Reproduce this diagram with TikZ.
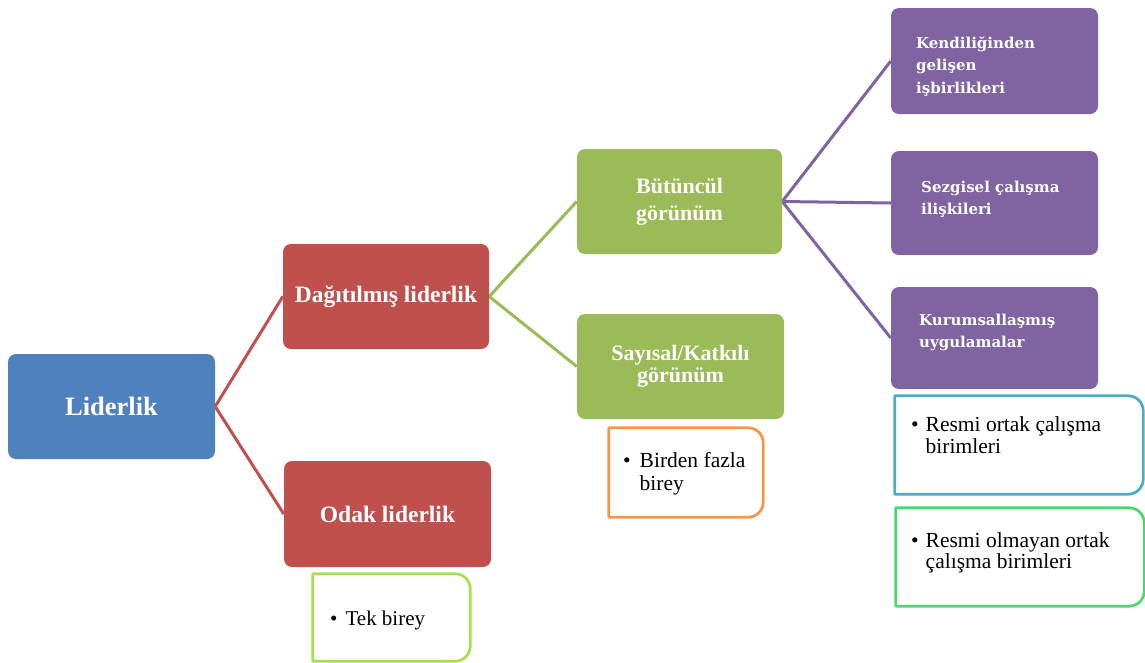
\documentclass[tikz,border=0pt]{standalone}
\usepackage{fontspec}
\setmainfont{Liberation Serif}
\newfontfamily\purpfont{DejaVu Serif}
\definecolor{cblue}{HTML}{4F81BD}
\definecolor{cred}{HTML}{C0504D}
\definecolor{cgreen}{HTML}{9BBB59}
\definecolor{cpurple}{HTML}{8064A2}
\definecolor{ccyan}{HTML}{4BACC6}
\definecolor{corange}{HTML}{F79646}
\definecolor{clime}{HTML}{A8E04C}
\definecolor{cmint}{HTML}{4FD66A}
\pgfdeclarelayer{background}
\pgfsetlayers{background,main}
\newcommand{\rightroundbox}[3]{%
  \draw[#2, line width=2.8pt, line join=round] (#1.south west) -- (#1.north west) -- ([xshift=-#3]#1.north east)
    arc[start angle=90,end angle=0,radius=#3] -- ([yshift=#3]#1.south east)
    arc[start angle=0,end angle=-90,radius=#3] -- cycle;}
\begin{document}
\begin{tikzpicture}[x=1pt,y=-1pt,
  mainbox/.style={rounded corners=8pt, inner sep=0pt, text=white, align=center},
  conn/.style={line width=3pt},
  holder/.style={inner sep=0pt},
  plabel/.style={anchor=north west, inner sep=0pt, text=white, align=left},
  blabel/.style={anchor=north west, inner sep=0pt, text=black}]
\useasboundingbox (0,0) rectangle (1145,662);

% main boxes
\node[mainbox, minimum width=207pt, minimum height=105pt, fill=cblue, font={\bfseries\fontsize{26.5}{30}\selectfont}] (lid) at (111.5,406.5) {Liderlik};
\node[mainbox, minimum width=206pt, minimum height=105pt, fill=cred, font={\bfseries\fontsize{23.5}{27}\selectfont}] (dag) at (386,296.5) {Dağıtılmış liderlik};
\node[mainbox, minimum width=207pt, minimum height=106pt, fill=cred, font={\bfseries\fontsize{23.5}{27}\selectfont}] (odak) at (387.5,514) {Odak liderlik};
\node[mainbox, minimum width=205pt, minimum height=105pt, fill=cgreen, font={\bfseries\fontsize{22}{27}\selectfont}] (but) at (679.5,201.5) {Bütüncül\\görünüm};
\node[mainbox, minimum width=207pt, minimum height=105pt, fill=cgreen, font={\bfseries\fontsize{22}{22}\selectfont}] (say) at (680.5,366.5) {Sayısal/Katkılı\\görünüm};
\node[mainbox, minimum width=207pt, minimum height=106pt, fill=cpurple] (ken) at (994.5,61) {};
\node[mainbox, minimum width=207pt, minimum height=104pt, fill=cpurple] (sez) at (994.5,203) {};
\node[mainbox, minimum width=207pt, minimum height=102pt, fill=cpurple] (kur) at (994.5,338) {};

% connectors
\begin{pgfonlayer}{background}
\draw[conn, cred] (lid.east) -- (dag.west);
\draw[conn, cred] (lid.east) -- (odak.west);
\draw[conn, cgreen] (dag.east) -- (but.west);
\draw[conn, cgreen] (dag.east) -- (say.west);
\draw[conn, cpurple] (but.east) -- (ken.west);
\draw[conn, cpurple] (but.east) -- (sez.west);
\draw[conn, cpurple] (but.east) -- (kur.west);
\end{pgfonlayer}

% purple labels
\node[plabel, font={\purpfont\bfseries\fontsize{15}{22.5}\selectfont}] (kent) at (916,36.3) {Kendiliğinden\\gelişen\\işbirlikleri};
\node[plabel, font={\purpfont\bfseries\fontsize{15}{22}\selectfont}] (sezt) at (921,180.6) {Sezgisel çalışma\\ilişkileri};
\node[plabel, font={\purpfont\bfseries\fontsize{15}{22}\selectfont}] (kurt) at (919,313.6) {Kurumsallaşmış\\uygulamalar};

% bullet boxes
\node[holder, minimum width=248pt, minimum height=98pt] (ro) at (1019,445) {};
\rightroundbox{ro}{ccyan}{15pt}
\node[holder, minimum width=248pt, minimum height=98pt] (rom) at (1020,557) {};
\rightroundbox{rom}{cmint}{15pt}
\node[holder, minimum width=154pt, minimum height=89pt] (bfb) at (686,472.5) {};
\rightroundbox{bfb}{corange}{15pt}
\node[holder, minimum width=157pt, minimum height=87pt] (tek) at (391.5,617.5) {};
\rightroundbox{tek}{clime}{15pt}

\node[blabel, font={\fontsize{21.5}{22}\selectfont}] (rot) at (911,415.6)
  {\begin{tabular}{@{}l@{\hspace{7pt}}l@{}}\textbullet & Resmi ortak çalışma\\ & birimleri\end{tabular}};
\node[blabel, font={\fontsize{21.5}{20}\selectfont}] (romt) at (911,532)
  {\begin{tabular}{@{}l@{\hspace{7pt}}l@{}}\textbullet & Resmi olmayan ortak\\ & çalışma birimleri\end{tabular}};
\node[blabel, font={\fontsize{21.5}{23}\selectfont}] (bfbt) at (623,450.9)
  {\begin{tabular}{@{}l@{\hspace{9pt}}l@{}}\textbullet & Birden fazla\\ & birey\end{tabular}};
\node[blabel, font={\fontsize{21}{22}\selectfont}] (tekt) at (330,609.6)
  {\begin{tabular}{@{}l@{\hspace{8pt}}l@{}}\textbullet & Tek birey\end{tabular}};
\end{tikzpicture}
\end{document}
